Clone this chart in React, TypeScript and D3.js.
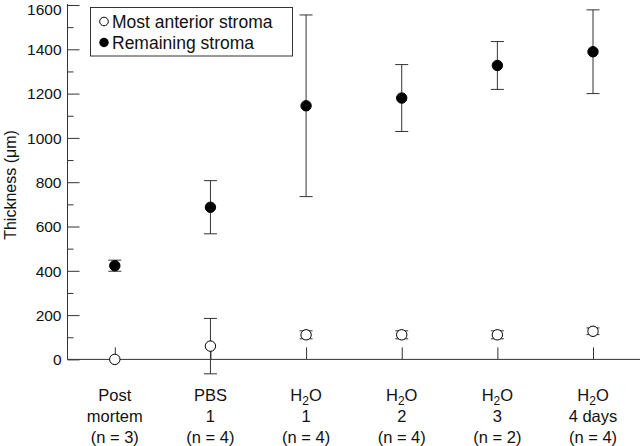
import React, { useEffect, useRef } from 'react';
import * as d3 from 'd3';

// groups along x: first line, second line, n
const groupTop = ['Post', 'PBS', 'H2O', 'H2O', 'H2O', 'H2O'];
const groupSub = ['mortem', '1', '1', '2', '3', '4 days'];
const groupN = ['(n = 3)', '(n = 4)', '(n = 4)', '(n = 4)', '(n = 2)', '(n = 4)'];

// Remaining stroma (filled)
const remainMean = [423, 687, 1145, 1180, 1327, 1389];
const remainErr = [25, 120, 410, 151, 108, 189];

// Most anterior stroma (open)
const anteriorMean = [0, 60, 111, 111, 111, 127];
const anteriorErr = [0, 125, 18, 18, 18, 15];

const yTicks = [0, 200, 400, 600, 800, 1000, 1200, 1400, 1600];
const yMinor = [100, 300, 500, 700, 900, 1100, 1300, 1500];

const font = 'Liberation Sans, Arial, Helvetica, sans-serif';

export default function App() {
  const ref = useRef<SVGSVGElement>(null);

  useEffect(() => {
    const svg = d3.select(ref.current);
    svg.selectAll('*').remove();

    const keys = groupTop.map((_, i) => String(i));
    const x = d3.scalePoint<string>().domain(keys).range([114.8, 593]);
    const y = d3.scaleLinear().domain([0, 1600]).range([359.4, 5]);
    const axisX = 67.5;

    // y axis, ticks pointing inward
    const gy = svg.append('g').attr('transform', `translate(${axisX},0)`);
    gy.call(
      d3.axisLeft(y).tickValues(yTicks).tickSize(-12).tickPadding(6).tickFormat(d3.format('d'))
    );
    gy.select('.domain').remove();
    gy.append('line').attr('x1', 0).attr('x2', 0).attr('y1', y(1600) - 1).attr('y2', y(0))
      .attr('stroke', '#333');
    gy.selectAll('.tick line').attr('stroke', '#333');
    gy.selectAll('.tick text').attr('font-family', font).attr('font-size', 15.5).attr('fill', '#111')
      .attr('dy', (d: any) => (d === 1600 ? '0.6em' : '0.34em'));

    const gm = svg.append('g').attr('transform', `translate(${axisX},0)`);
    gm.call(d3.axisLeft(y).tickValues(yMinor).tickSize(-6).tickFormat(() => ''));
    gm.select('.domain').remove();
    gm.selectAll('.tick line').attr('stroke', '#333');

    // x axis
    const gx = svg.append('g').attr('transform', `translate(0,${y(0)})`);
    gx.call(d3.axisBottom(x).tickSize(-12).tickFormat(() => ''));
    gx.select('.domain').remove();
    gx.selectAll('.tick line').attr('stroke', '#333');
    gx.append('line').attr('x1', axisX).attr('x2', 640).attr('y1', 0).attr('y2', 0)
      .attr('stroke', '#333');

    // x labels
    const lab = svg.append('g').attr('font-family', font).attr('font-size', 16.5)
      .attr('fill', '#111').attr('text-anchor', 'middle');
    keys.forEach((k, i) => {
      const cx = x(k)!;
      const t1 = lab.append('text').attr('x', cx).attr('y', 400.5);
      if (groupTop[i] === 'H2O') {
        t1.append('tspan').text('H');
        t1.append('tspan').attr('font-size', 12).attr('dy', 4).text('2');
        t1.append('tspan').attr('dy', -4).text('O');
      } else {
        t1.text(groupTop[i]);
      }
      lab.append('text').attr('x', cx).attr('y', 422).text(groupSub[i]);
      lab.append('text').attr('x', cx).attr('y', 442.5).text(groupN[i]);
    });

    // y title
    svg.append('text')
      .attr('transform', `translate(16,185) rotate(-90)`)
      .attr('text-anchor', 'middle')
      .attr('font-family', font).attr('font-size', 16).attr('fill', '#111')
      .text('Thickness (μm)');

    const drawSeries = (mean: number[], err: number[], filled: boolean) => {
      const g = svg.append('g');
      mean.forEach((m, i) => {
        const cx = x(keys[i])!;
        const e = err[i];
        if (e > 0) {
          g.append('line').attr('x1', cx).attr('x2', cx)
            .attr('y1', y(m - e)).attr('y2', y(m + e)).attr('stroke', '#333');
          [m - e, m + e].forEach((v) => {
            g.append('line').attr('x1', cx - 6.5).attr('x2', cx + 6.5)
              .attr('y1', y(v)).attr('y2', y(v)).attr('stroke', '#333');
          });
        }
        g.append('circle').attr('cx', cx).attr('cy', y(m)).attr('r', 5.2)
          .attr('fill', filled ? '#000' : '#fff').attr('stroke', '#000').attr('stroke-width', 1);
      });
    };
    drawSeries(anteriorMean, anteriorErr, false);
    drawSeries(remainMean, remainErr, true);

    // legend
    const lg = svg.append('g');
    lg.append('rect').attr('x', 90.5).attr('y', 7.5).attr('width', 202).attr('height', 48.5)
      .attr('fill', '#fff').attr('stroke', '#333');
    lg.append('circle').attr('cx', 104).attr('cy', 21.5).attr('r', 4.3)
      .attr('fill', '#fff').attr('stroke', '#000');
    lg.append('circle').attr('cx', 104).attr('cy', 42.5).attr('r', 4.7).attr('fill', '#000');
    lg.append('text').attr('x', 112).attr('y', 28.3).attr('font-family', font)
      .attr('font-size', 17.5).attr('fill', '#111').text('Most anterior stroma');
    lg.append('text').attr('x', 112).attr('y', 49.3).attr('font-family', font)
      .attr('font-size', 17.5).attr('fill', '#111').text('Remaining stroma');
  }, []);

  return (
    <svg
      ref={ref}
      width={640}
      height={446}
      style={{ position: 'absolute', left: 0, top: 0, background: '#fff' }}
    />
  );
}
